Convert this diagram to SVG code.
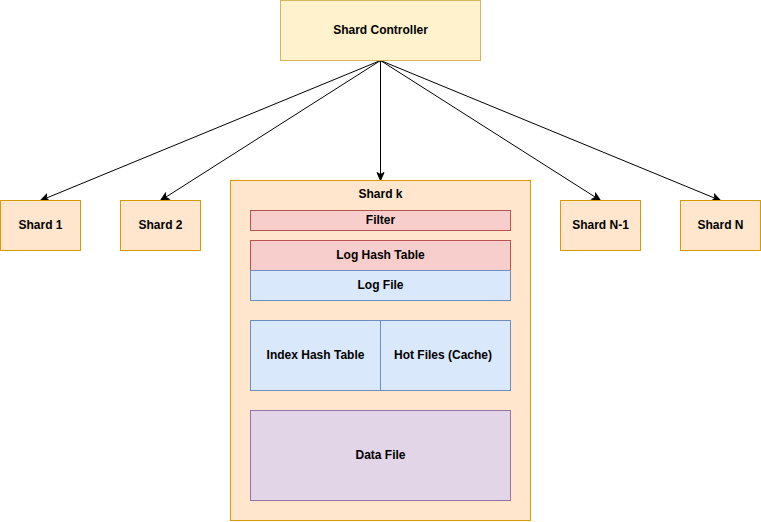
<svg xmlns="http://www.w3.org/2000/svg" width="761" height="522" viewBox="0 0 761 522">
<style>
text{font-family:"Liberation Sans",Arial,sans-serif;font-size:12px;font-weight:bold;fill:#000;text-anchor:middle;dominant-baseline:central}
.y{fill:#fff2cc;stroke:#d6b656}
.o{fill:#ffe6cc;stroke:#d79b00}
.r{fill:#f8cecc;stroke:#b85450}
.b{fill:#dae8fc;stroke:#6c8ebf}
.p{fill:#e1d5e7;stroke:#9673a6}
.e{fill:none;stroke:#000;stroke-width:1}
</style>
<defs>
<marker id="a" markerUnits="userSpaceOnUse" markerWidth="10" markerHeight="10" viewBox="0 0 10 10" refX="9" refY="5" orient="auto">
<path d="M1,1.5 L9,5 L1,8.5 L3,5 Z" fill="#000" stroke="#000"/>
</marker>
</defs>
<rect width="761" height="522" fill="#fff"/>
<g id="connectors">
<line class="e" x1="380.5" y1="60.5" x2="40.5" y2="200.5" marker-end="url(#a)"/>
<line class="e" x1="380.5" y1="60.5" x2="160.5" y2="200.5" marker-end="url(#a)"/>
<line class="e" x1="380.5" y1="60.5" x2="380.5" y2="180.5" marker-end="url(#a)"/>
<line class="e" x1="380.5" y1="60.5" x2="600.5" y2="200.5" marker-end="url(#a)"/>
<line class="e" x1="380.5" y1="60.5" x2="720.5" y2="200.5" marker-end="url(#a)"/>
</g>
<g id="controller"><rect class="y" x="280.5" y="0.5" width="200" height="60"/><text x="380.5" y="29.5">Shard Controller</text></g>
<g id="shard1"><rect class="o" x="0.5" y="200.5" width="80" height="50"/><text x="40.5" y="224.5">Shard 1</text></g>
<g id="shard2"><rect class="o" x="120.5" y="200.5" width="80" height="50"/><text x="160.5" y="224.5">Shard 2</text></g>
<g id="shardk"><rect class="o" x="230.5" y="180.5" width="300" height="340"/><text x="380.5" y="194">Shard k</text></g>
<g id="filter"><rect class="r" x="250.5" y="210.5" width="260" height="20"/><text x="380.5" y="219.5">Filter</text></g>
<g id="loghash"><rect class="r" x="250.5" y="240.5" width="260" height="30"/><text x="380.5" y="254.5">Log Hash Table</text></g>
<g id="logfile"><rect class="b" x="250.5" y="270.5" width="260" height="30"/><text x="380.5" y="284.5">Log File</text></g>
<g id="indexhash"><rect class="b" x="250.5" y="320.5" width="130" height="70"/><text x="315.5" y="354.5">Index Hash Table</text></g>
<g id="hotfiles"><rect class="b" x="380.5" y="320.5" width="130" height="70"/><text x="443" y="354.5">Hot Files (Cache)</text></g>
<g id="datafile"><rect class="p" x="250.5" y="410.5" width="260" height="90"/><text x="380.5" y="454.5">Data File</text></g>
<g id="shardn1"><rect class="o" x="560.5" y="200.5" width="80" height="50"/><text x="600.5" y="224.5">Shard N-1</text></g>
<g id="shardn"><rect class="o" x="680.5" y="200.5" width="80" height="50"/><text x="720.5" y="224.5">Shard N</text></g>
</svg>
